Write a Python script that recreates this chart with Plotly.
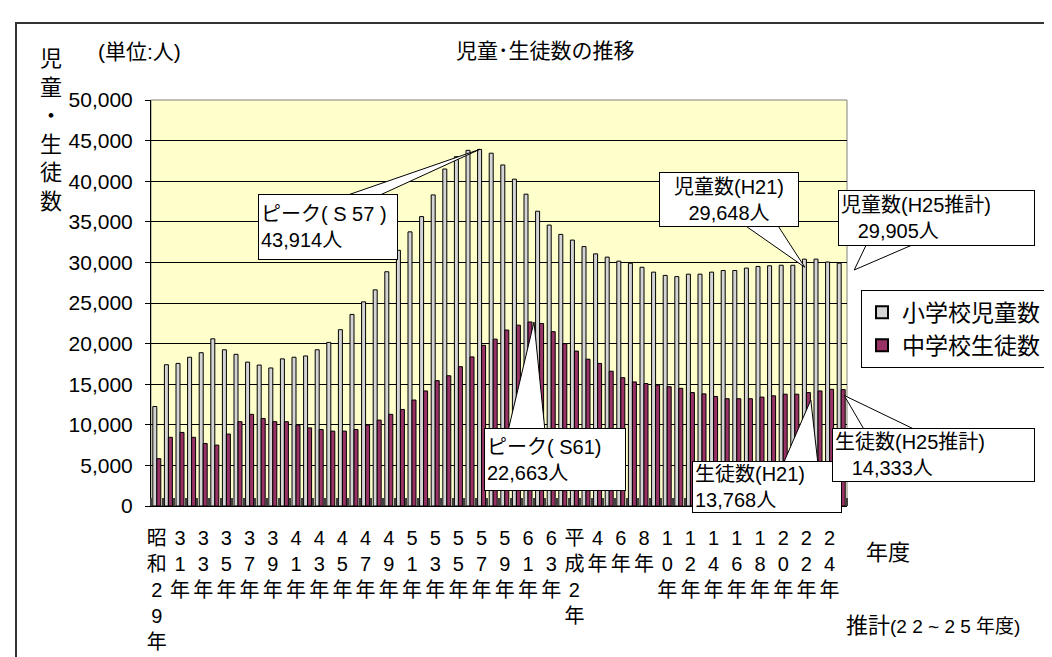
import plotly.graph_objects as go

# ---------------- data ----------------
fiscal_years = (["昭和%d年" % y for y in range(29, 64)] +
                ["平成%d年" % y for y in range(1, 26)])

tick_labels = ["昭和29年", "31年", "33年", "35年", "37年", "39年", "41年", "43年",
               "45年", "47年", "49年", "51年", "53年", "55年", "57年", "59年",
               "61年", "63年", "平成2年", "4年", "6年", "8年", "10年", "12年",
               "14年", "16年", "18年", "20年", "22年", "24年"]

elementary = [12250, 17400, 17560, 18320, 18880, 20590, 19240, 18680, 17720, 17360,
              17000, 18120, 18320, 18480, 19240, 20150, 21710, 23590, 25140, 26620,
              28850, 31490, 33760, 35640, 38310, 41500, 43020, 43800, 43914, 43450,
              42000, 40250, 38400, 36300, 34600, 33450, 32750, 31950, 31050, 30650,
              30150, 29900, 29400, 28800, 28400, 28250, 28550, 28550, 28800, 29000,
              29000, 29300, 29500, 29580, 29650, 29648, 30400, 30400, 30050, 29905]

junior = [5830, 8460, 9060, 8460, 7700, 7500, 8860, 10380, 11290, 10780,
          10380, 10380, 9980, 9620, 9420, 9220, 9220, 9420, 9980, 10580,
          11290, 11890, 13050, 14170, 15440, 16040, 17160, 18360, 19790, 20550,
          21670, 22270, 22663, 22470, 21470, 19990, 19080, 18080, 17560, 16600,
          15800, 15280, 15080, 14890, 14690, 14490, 13970, 13810, 13490, 13210,
          13210, 13210, 13410, 13570, 13770, 13768, 13970, 14170, 14370, 14333]

series_names = ["小学校児童数", "中学校生徒数"]

# ---------------- layout geometry ----------------
W, H = 1052, 657
L, R, T, B = 143, 839, 92, 509
N = len(elementary)
YMAX = 50000
CJK = "Liberation Sans, Noto Sans CJK JP, sans-serif"


def px_x(px):
    return (px - L) / (R - L)


def px_y(py):
    return (B - py) / (B - T)


def data_px(i, v, side):
    # pixel position of a bar top; side -1 = elementary bar, +1 = junior bar
    x = L + (i + 0.5) * (R - L) / N + side * 2
    y = B - v / YMAX * (B - T)
    return x, y


idx = list(range(N))
vertical_ticks = ["<br>".join(list(s)) for s in tick_labels]

fig = go.Figure()
fig.add_bar(x=idx, y=elementary, name=series_names[0], customdata=fiscal_years,
            hovertemplate="%{customdata}: %{y:,}人<extra></extra>",
            marker=dict(color="#d4d4d4", line=dict(color="black", width=1)))
fig.add_bar(x=idx, y=junior, name=series_names[1], customdata=fiscal_years,
            hovertemplate="%{customdata}: %{y:,}人<extra></extra>",
            marker=dict(color="#993366", line=dict(color="black", width=1)))

shapes = []
annotations = []

# outer frame
shapes.append(dict(type="rect", xref="paper", yref="paper",
                   x0=px_x(8), x1=px_x(1200), y0=px_y(800), y1=px_y(13),
                   line=dict(color="#333333", width=2), fillcolor="rgba(0,0,0,0)",
                   layer="below"))
# plot area border (gray top/right)
shapes.append(dict(type="rect", xref="x domain", yref="y domain",
                   x0=0, x1=1, y0=0, y1=1,
                   line=dict(color="#808080", width=1), layer="below"))


def callout(lines, box, base, tip, align="left"):
    l, t, w, h = box
    xa, xb, yb = base
    tx, ty = tip
    shapes.append(dict(type="path", xref="paper", yref="paper",
                       path="M %f,%f L %f,%f L %f,%f Z" % (
                           px_x(xa), px_y(yb), px_x(tx), px_y(ty), px_x(xb), px_y(yb)),
                       fillcolor="white", line=dict(color="black", width=1),
                       layer="above"))
    annotations.append(dict(xref="paper", yref="paper", x=px_x(l), y=px_y(t),
                            xanchor="left", yanchor="top", showarrow=False,
                            text="<br>".join(lines), align=align, valign="middle",
                            width=w - 6, height=h - 6, borderpad=2,
                            bgcolor="white", bordercolor="black", borderwidth=1,
                            font=dict(family=CJK, size=20, color="black")))


# S57 elementary peak
i = elementary.index(max(elementary))
tx, ty = data_px(i, elementary[i], -1)
callout(["ピーク( S 57 )", "43,914人"], (250, 189, 140, 66), (333, 367, 192), (tx, ty))

# S61 junior peak
i = junior.index(max(junior))
tx, ty = data_px(i, junior[i], 1)
callout(["ピーク( S61)", "22,663人"], (476, 429, 142, 63), (500, 537, 432), (tx + 4, ty))

# H21 elementary
i = fiscal_years.index("平成21年")
tx, ty = data_px(i, elementary[i], -1)
callout(["児童数(H21)", "29,648人"], (651, 166, 140, 55), (733, 768, 218), (tx + 12, ty + 2),
        align="center")

# H25 elementary (projection)
i = fiscal_years.index("平成25年")
tx, ty = data_px(i, elementary[i], -1)
callout(["児童数(H25推計)", "\u00a0\u00a0\u00a029,905人"], (830, 184, 197, 56),
        (860, 913, 237), (tx + 15, ty + 7))

# H21 junior
i = fiscal_years.index("平成21年")
tx, ty = data_px(i, junior[i], 1)
callout(["生徒数(H21)", "13,768人"], (684, 463, 150, 52), (775, 810, 466), (tx + 14, ty + 6))

# H25 junior (projection)
i = fiscal_years.index("平成25年")
tx, ty = data_px(i, junior[i], 1)
callout(["生徒数(H25推計)", "\u00a0\u00a0\u00a014,333人"], (824, 429, 203, 54),
        (857, 910, 432), (tx + 1, ty + 6))

# texts
annotations += [
    dict(xref="paper", yref="paper", x=px_x(537), y=px_y(41), xanchor="center",
         yanchor="middle", showarrow=False, text="児童･生徒数の推移",
         font=dict(family=CJK, size=21, color="black")),
    dict(xref="paper", yref="paper", x=px_x(88), y=px_y(42), xanchor="left",
         yanchor="middle", showarrow=False, text="(単位:人)",
         font=dict(family=CJK, size=21, color="black")),
    dict(xref="paper", yref="paper", x=px_x(43), y=px_y(34), xanchor="center",
         yanchor="top", showarrow=False, text="<br>".join("児童・生徒数"),
         font=dict(family=CJK, size=22, color="black")),
    dict(xref="paper", yref="paper", x=px_x(880), y=px_y(557), xanchor="center",
         yanchor="middle", showarrow=False, text="年度",
         font=dict(family=CJK, size=22, color="black")),
    dict(xref="paper", yref="paper", x=px_x(836), y=px_y(632), xanchor="left",
         yanchor="middle", showarrow=False,
         text="推計<span style='font-size:19px'>(2 2 ~ 2 5 年度)</span>",
         font=dict(family=CJK, size=22, color="black")),
]

fig.update_layout(
    width=W, height=H,
    margin=dict(l=L, r=W - R, t=T, b=H - B, pad=0),
    paper_bgcolor="white", plot_bgcolor="#ffffcc",
    barmode="group", bargap=0.31, bargroupgap=0,
    showlegend=True,
    legend=dict(x=px_x(853), y=px_y(287), xanchor="left", yanchor="top",
                bgcolor="white", bordercolor="black", borderwidth=1,
                font=dict(family=CJK, size=23, color="black"),
                itemsizing="constant", tracegroupgap=0),
    shapes=shapes, annotations=annotations,
    xaxis=dict(range=[-0.5, N - 0.5], tickmode="array",
               tickvals=idx[::2], ticktext=vertical_ticks,
               ticks="", showgrid=False, zeroline=False,
               showline=True, linecolor="black", linewidth=1,
               tickfont=dict(family=CJK, size=20, color="black"),
               ticklabelstandoff=14, tickangle=0,
               minor=dict(tickmode="linear", tick0=-0.5, dtick=1, ticks="inside",
                          ticklen=8, tickwidth=2, tickcolor="#404040",
                          showgrid=False)),
    yaxis=dict(range=[0, YMAX], dtick=5000, tickformat=",",
               ticks="outside", ticklen=5, tickcolor="black",
               showline=True, linecolor="black", linewidth=1,
               showgrid=True, gridcolor="black", gridwidth=1, zeroline=False,
               tickfont=dict(family="Liberation Sans, Arial, sans-serif", size=21,
                             color="black"),
               ticklabelstandoff=8),
)

fig.write_html("out.html")
